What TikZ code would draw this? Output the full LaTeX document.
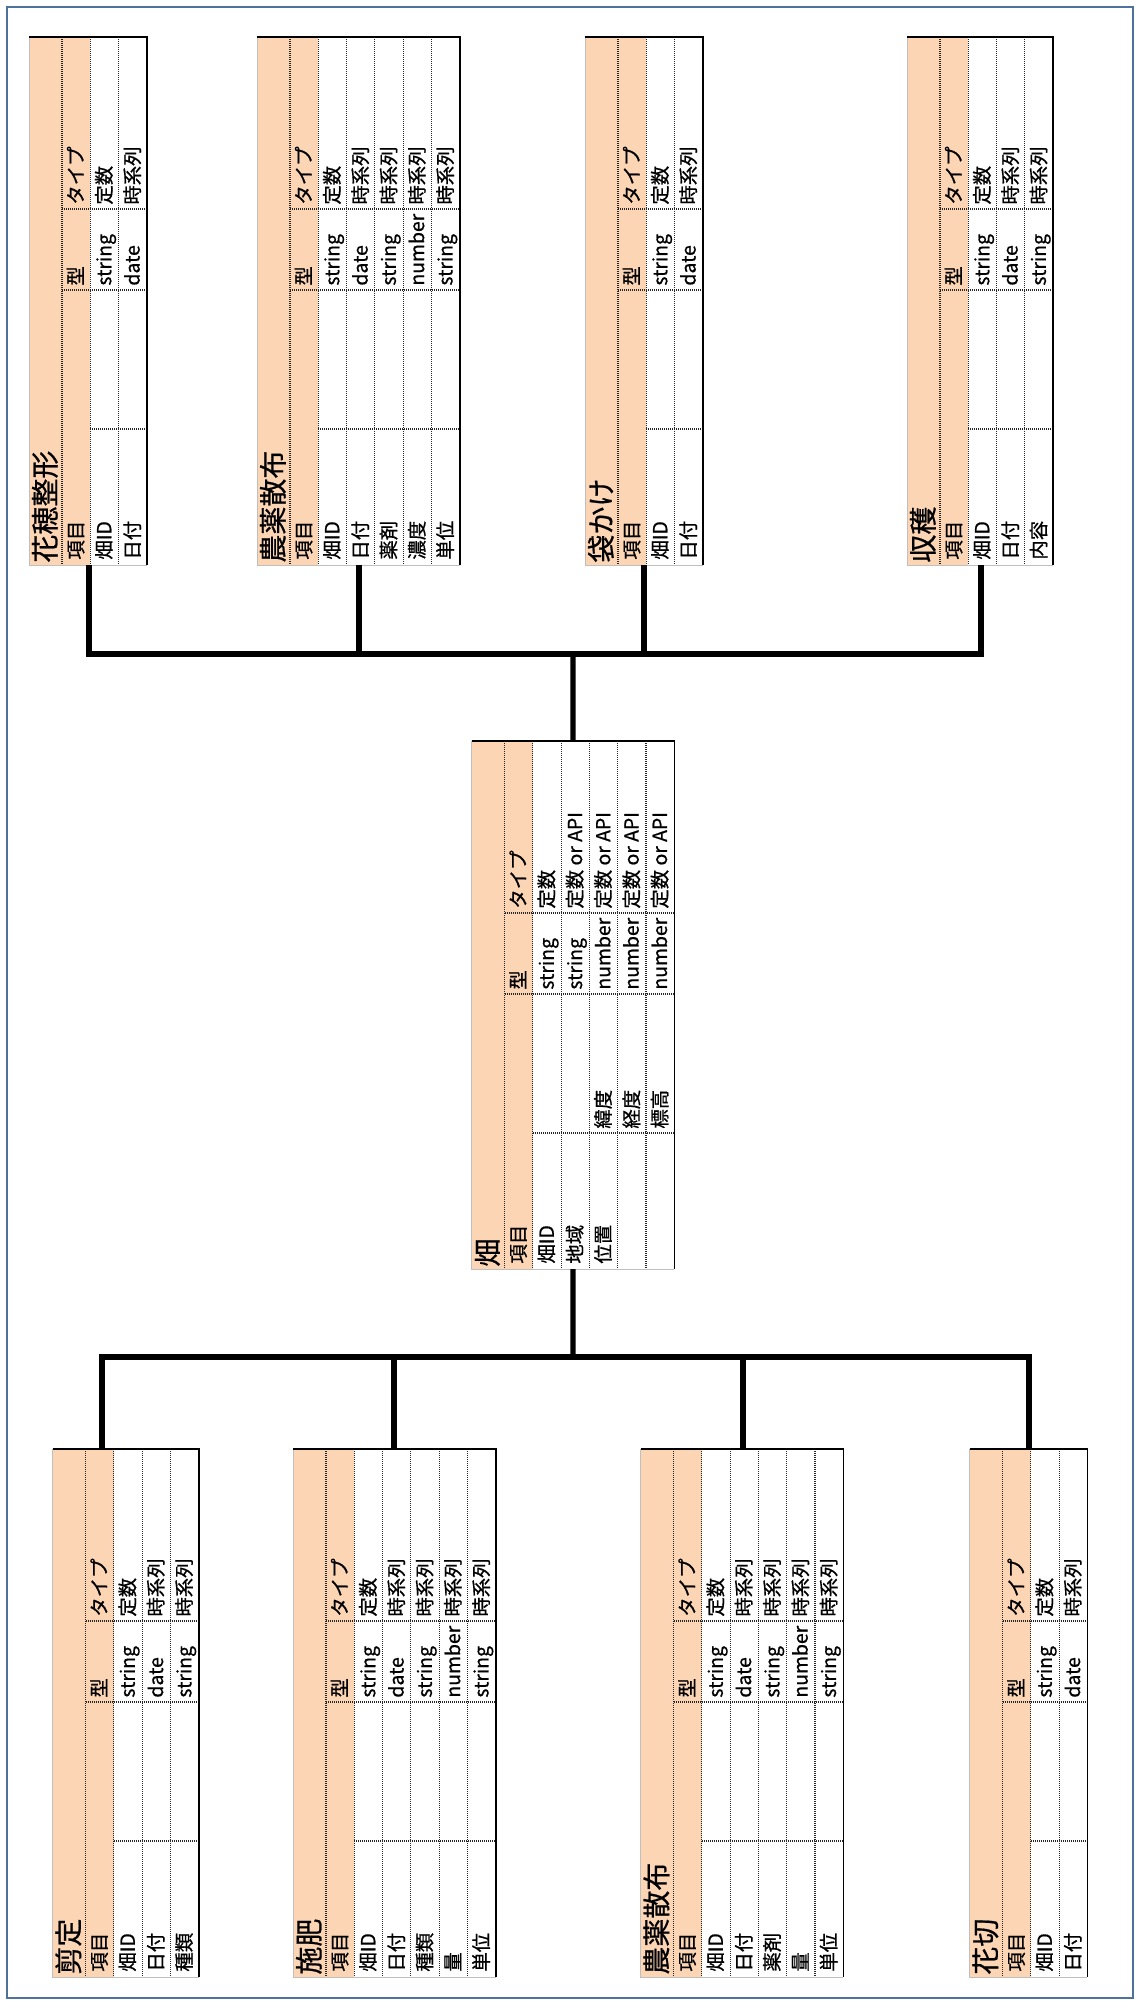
\documentclass[tikz,border=0pt]{standalone}
\usepackage{fontspec}
\newfontfamily\jp{Noto Sans CJK JP}[FakeBold=0.7]
\usepackage{xcolor}
\usetikzlibrary{positioning,calc}

\definecolor{peach}{RGB}{252,213,180}
\definecolor{framecol}{RGB}{79,113,158}

\tikzset{
  dotline/.style={black!85,line width=0.55pt,dash pattern=on 0.5pt off 0.5pt},
  rim/.style={black,line width=0.8pt},
  softrim/.style={black!25,line width=0.5pt},
  link/.style={black,line width=2.6pt},
  frame/.style={framecol,line width=1.3pt},
  cell/.style={rotate=90,anchor=west,inner sep=0pt,
    font=\jp\fontsize{9.7}{10}\selectfont,text height=8.2pt,text depth=1.4pt},
  sheettitle/.style={cell,font=\jp\fontsize{14}{14}\selectfont,
    text height=12pt,text depth=2pt},
  sheet/.style={inner sep=0pt,outer sep=0pt}
}

% name, left, top, title, number of rows, rows (item/sub/type/kind)
\newcommand\datatable[6]{%
  \begin{scope}[shift={(#2,#3)}]
    \pgfmathsetmacro\tblw{33+28.3*(#5+1)}
    \fill[peach] (0,0) rectangle (61.3,528);
    \draw[dotline] (33,0) -- (33,528);
    \foreach \k in {1,...,#5}
      \draw[dotline] ({33+28.3*\k},0) -- ({33+28.3*\k},528);
    \draw[dotline] (33,172) -- (\tblw,172);
    \draw[dotline] (33,253) -- (\tblw,253);
    \draw[dotline] (61.3,392) -- (\tblw,392);
    \draw[softrim] (\tblw,528) -- (0,528) -- (0,0);
    \draw[rim] (0,0) -- (\tblw,0) -- (\tblw,528);
    \node[sheettitle] at (16.5,526) {#4};
    \node[cell] at (47.15,523) {項目};
    \node[cell] at (47.15,249) {型};
    \node[cell] at (47.15,168) {タイプ};
    \foreach \itm/\sub/\typ/\knd [count=\k] in {#6} {
      \pgfmathsetmacro\rx{33+28.3*\k+14.15}
      \node[cell] at (\rx,523) {\itm};
      \node[cell] at (\rx,388) {\sub};
      \node[cell] at (\rx,249) {\typ};
      \node[cell] at (\rx,168) {\knd};
    }
    \node[sheet,minimum width=\tblw*0.5pt,minimum height=264pt]
      (#1) at ({\tblw/2},264) {};
  \end{scope}}

\begin{document}
\begin{tikzpicture}[x=0.5pt,y=-0.5pt]

\useasboundingbox (0,0) rectangle (1139,2004);
\draw[frame] (7,7) rectangle (1133,1998);

% upper sheets
\datatable{hanaho}{29}{37}{花穂整形}{2}
  {畑ID/{}/string/定数, 日付/{}/date/時系列}
\datatable{noyakuA}{257}{37}{農薬散布}{5}
  {畑ID/{}/string/定数, 日付/{}/date/時系列, 薬剤/{}/string/時系列,
   濃度/{}/number/時系列, 単位/{}/string/時系列}
\datatable{fukuro}{585}{37}{袋かけ}{2}
  {畑ID/{}/string/定数, 日付/{}/date/時系列}
\datatable{shukaku}{907}{37}{収穫}{3}
  {畑ID/{}/string/定数, 日付/{}/date/時系列, 内容/{}/string/時系列}

% field sheet
\datatable{hata}{471.5}{741}{畑}{5}
  {畑ID/{}/string/定数, 地域/{}/string/定数 or API,
   位置/緯度/number/定数 or API, {}/経度/number/定数 or API,
   {}/標高/number/定数 or API}

% lower sheets
\datatable{sentei}{52.5}{1449}{剪定}{3}
  {畑ID/{}/string/定数, 日付/{}/date/時系列, 種類/{}/string/時系列}
\datatable{sehi}{293}{1449}{施肥}{5}
  {畑ID/{}/string/定数, 日付/{}/date/時系列, 種類/{}/string/時系列,
   量/{}/number/時系列, 単位/{}/string/時系列}
\datatable{noyakuB}{640.5}{1449}{農薬散布}{5}
  {畑ID/{}/string/定数, 日付/{}/date/時系列, 薬剤/{}/string/時系列,
   量/{}/number/時系列, 単位/{}/string/時系列}
\datatable{hanakiri}{969.5}{1449}{花切}{2}
  {畑ID/{}/string/定数, 日付/{}/date/時系列}

\coordinate (topbus) at (573,654);
\coordinate (botbus) at (573,1357);

% tree
\draw[link] (hata.north) -- (topbus);
\draw[link] ($(hanaho.south west)+(60,0)$) |- (topbus);
\draw[link] ($(noyakuA.south west)+(102,0)$) |- (topbus);
\draw[link] ($(fukuro.south west)+(59,0)$) |- (topbus);
\draw[link] ($(shukaku.south west)+(74,0)$) |- (topbus);

\draw[link] (hata.south) -- (botbus);
\draw[link] ($(sentei.north west)+(49.5,0)$) |- (botbus);
\draw[link] ($(sehi.north west)+(101,0)$) |- (botbus);
\draw[link] ($(noyakuB.north west)+(102.5,0)$) |- (botbus);
\draw[link] ($(hanakiri.north west)+(59.5,0)$) |- (botbus);

\end{tikzpicture}
\end{document}
